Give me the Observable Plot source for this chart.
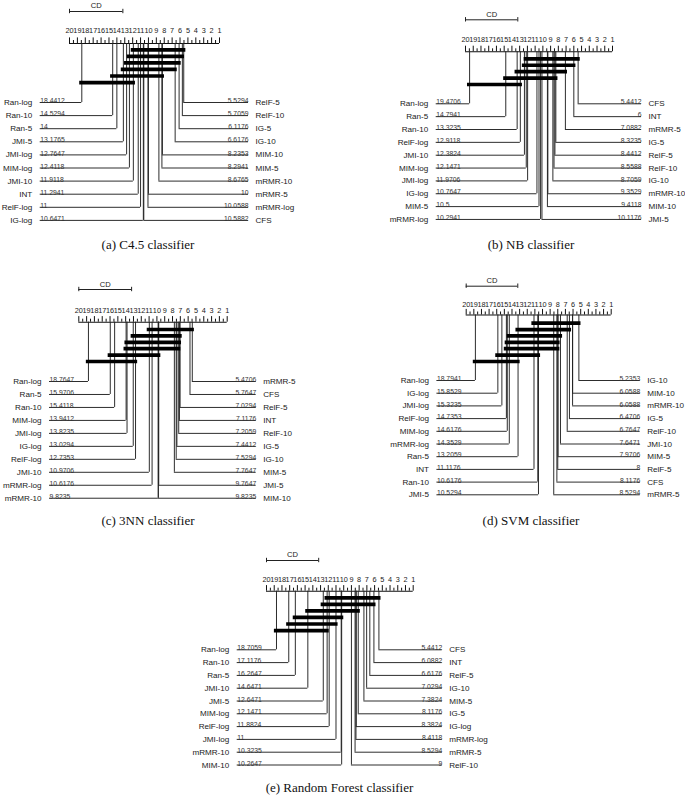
<!DOCTYPE html>
<html><head><meta charset="utf-8">
<script src="https://cdn.jsdelivr.net/npm/d3@7"></script>
<script src="https://cdn.jsdelivr.net/npm/@observablehq/plot@0.6"></script>
<style>
html,body{margin:0;padding:0;background:#fff;}
#page{position:relative;width:685px;height:795px;overflow:hidden;background:#fff;}
#page svg{position:absolute;left:0;top:0;background:transparent;}
.cap{position:absolute;font-family:"Liberation Serif","Times New Roman",serif;font-size:13px;color:#111;white-space:nowrap;transform:translate(-50%,-50%);}
</style></head><body><div id="page"></div>
<script>
// ---- data ----
const CD = 6.76;
const rankTicks = [20,19,18,17,16,15,14,13,12,11,10,9,8,7,6,5,4,3,2,1];

// (a) C4.5
const c45LeftNames  = ["Ran-log","Ran-10","Ran-5","JMI-5","JMI-log","MIM-log","JMI-10","INT","RelF-log","IG-log"];
const c45LeftRanks  = [18.4412,14.5294,14,13.1765,12.7647,12.4118,11.9118,11.2941,11,10.6471];
const c45RightNames = ["RelF-5","RelF-10","IG-5","IG-10","MIM-10","MIM-5","mRMR-10","mRMR-5","mRMR-log","CFS"];
const c45RightRanks = [5.5294,5.7059,6.1176,6.6176,8.2353,8.2941,8.6765,10,10.0588,10.5882];
const c45Cliques = [[11.9118,5.5294],[12.4118,5.7059],[12.7647,6.1176],[13.1765,6.6176],[14.5294,8.2353],[18.4412,11.9118]];

// (b) NB
const nbLeftNames  = ["Ran-log","Ran-5","Ran-10","RelF-log","JMI-10","MIM-log","JMI-log","IG-log","MIM-5","mRMR-log"];
const nbLeftRanks  = [19.4706,14.7941,13.3235,12.9118,12.3824,12.1471,11.9706,10.7647,10.5,10.2941];
const nbRightNames = ["CFS","INT","mRMR-5","IG-5","RelF-5","RelF-10","IG-10","mRMR-10","MIM-10","JMI-5"];
const nbRightRanks = [5.4412,6,7.0882,8.3235,8.4412,8.5588,8.7059,9.3529,9.4118,10.1176];
const nbCliques = [[12.1471,5.4412],[12.3824,6],[13.3235,7.0882],[14.7941,8.3235],[19.4706,12.9118]];

// (c) 3NN
const knnLeftNames  = ["Ran-log","Ran-5","Ran-10","MIM-log","JMI-log","IG-log","RelF-log","JMI-10","mRMR-log","mRMR-10"];
const knnLeftRanks  = [18.7647,15.9706,15.4118,13.9412,13.8235,13.0294,12.7353,10.9706,10.6176,9.8235];
const knnRightNames = ["mRMR-5","CFS","RelF-5","INT","RelF-10","IG-5","IG-10","MIM-5","JMI-5","MIM-10"];
const knnRightRanks = [5.4706,5.7647,7.0294,7.1176,7.2059,7.4412,7.5294,7.7647,9.7647,9.8235];
const knnCliques = [[10.9706,5.4706],[13.0294,7.0294],[13.8235,7.1176],[13.9412,7.2059],[15.9706,9.7647],[18.7647,12.7353]];

// (d) SVM
const svmLeftNames  = ["Ran-log","IG-log","JMI-log","RelF-log","MIM-log","mRMR-log","Ran-5","INT","Ran-10","JMI-5"];
const svmLeftRanks  = [18.7941,15.8529,15.3235,14.7353,14.6176,14.3529,13.2059,11.1176,10.6176,10.5294];
const svmRightNames = ["IG-10","MIM-10","mRMR-10","IG-5","RelF-10","JMI-10","MIM-5","RelF-5","CFS","mRMR-5"];
const svmRightRanks = [5.2353,6.0588,6.0588,6.4706,6.7647,7.6471,7.9706,8,8.1176,8.5294];
const svmCliques = [[11.1176,5.2353],[13.2059,6.4706],[14.3529,7.6471],[14.6176,7.9706],[14.7353,8],[15.8529,10.5294],[18.7941,13.2059]];

// (e) Random Forest
const rfLeftNames  = ["Ran-log","Ran-10","Ran-5","JMI-10","JMI-5","MIM-log","RelF-log","JMI-log","mRMR-10","MIM-10"];
const rfLeftRanks  = [18.7059,17.1176,16.2647,14.6471,12.6471,12.1471,11.8824,11,10.3235,10.2647];
const rfRightNames = ["CFS","INT","RelF-5","IG-10","MIM-5","IG-5","IG-log","mRMR-log","mRMR-5","RelF-10"];
const rfRightRanks = [5.4412,6.0882,6.6176,7.0294,7.3824,8.1176,8.3824,8.4118,8.5294,9];
const rfCliques = [[12.1471,5.4412],[12.6471,6.0882],[14.6471,8.1176],[16.2647,10.2647],[17.1176,11],[18.7059,12.1471]];

const captions = ["(a)  C4.5 classifier","(b)  NB classifier","(c)  3NN classifier","(d)  SVM classifier","(e)  Random Forest classifier"];

// ---- layout (page pixels) ----
const layouts = [
  {x0:69,   x1:219,   cdY:11,    cdLY:4.8,   tickY:30.5,  axisY:43,    cl0:49.3,  cst:6.55, row0:102,   rst:13.1,  capX:148,   capY:245},
  {x0:465,  x1:612,   cdY:19.3,  cdLY:13.8,  tickY:39.5,  axisY:51.3,  cl0:58.3,  cst:6.43, row0:103.3, rst:12.85, capX:531,   capY:245},
  {x0:78.3, x1:226.7, cdY:289,   cdLY:283.8, tickY:310.3, axisY:321.7, cl0:329,   cst:6.4,  row0:381,   rst:12.97, capX:148,   capY:521},
  {x0:465.7,x1:610.7, cdY:285.7, cdLY:280.3, tickY:304.3, axisY:314.5, cl0:322.7, cst:6.38, row0:380,   rst:12.7,  capX:531,   capY:521},
  {x0:266,  x1:412.7, cdY:560,   cdLY:554,   tickY:579.3, axisY:590.7, cl0:597.3, cst:6.55, row0:649.3, rst:12.8,  capX:339.5, capY:788}
];

const panels = [
  {ln:c45LeftNames, lr:c45LeftRanks, rn:c45RightNames, rr:c45RightRanks, cl:c45Cliques},
  {ln:nbLeftNames,  lr:nbLeftRanks,  rn:nbRightNames,  rr:nbRightRanks,  cl:nbCliques},
  {ln:knnLeftNames, lr:knnLeftRanks, rn:knnRightNames, rr:knnRightRanks, cl:knnCliques},
  {ln:svmLeftNames, lr:svmLeftRanks, rn:svmRightNames, rr:svmRightRanks, cl:svmCliques},
  {ln:rfLeftNames,  lr:rfLeftRanks,  rn:rfRightNames,  rr:rfRightRanks,  cl:rfCliques}
];

const SANS = "'Liberation Sans', Arial, Helvetica, sans-serif";
const page = document.getElementById("page");

function drawPanel(p, L) {
  const pxu = (L.x1 - L.x0) / 19;
  const leftEnd = 20 + 29.3 / pxu;
  const rightEnd = 1 - 29 / pxu;
  const ext = 2.1 / pxu;
  const left = p.ln.map((n, i) => ({name: n, rank: p.lr[i], y: L.row0 + i * L.rst, end: leftEnd}));
  const right = p.rn.map((n, i) => ({name: n, rank: p.rr[i], y: L.row0 + i * L.rst, end: rightEnd}));
  const rows = left.concat(right);
  const cliques = p.cl.map((c, i) => ({a: c[0] + ext, b: c[1] - ext, y: L.cl0 + i * L.cst}));
  const halfTicks = d3.range(39).map(i => 20 - i * 0.5).map(t => ({t, major: Number.isInteger(t)}));
  const svg = Plot.plot({
    width: 685, height: 795, margin: 0,
    x: {domain: [20, 1], range: [L.x0, L.x1], axis: null},
    y: {type: "identity", axis: null},
    style: {background: "transparent", overflow: "visible"},
    marks: [
      // CD bar
      Plot.ruleY([L.cdY], {x1: 20, x2: 20 - CD, stroke: "#222", strokeWidth: 1}),
      Plot.ruleX([20, 20 - CD], {y1: L.cdY - 2.2, y2: L.cdY + 2.2, stroke: "#222", strokeWidth: 1}),
      Plot.text(["CD"], {x: 20 - CD / 2, y: L.cdLY, text: d => d, fontSize: 7.6, fontFamily: SANS, fill: "#222"}),
      // axis
      Plot.text(rankTicks, {x: d => d, y: L.tickY, text: d => String(d), fontSize: 7.3, fontFamily: SANS, fill: "#222"}),
      Plot.ruleY([L.axisY], {x1: 20, x2: 1, stroke: "#111", strokeWidth: 1.1}),
      Plot.ruleX(halfTicks, {x: "t", y1: L.axisY, y2: d => L.axisY - (d.major ? 5.6 : 3), stroke: "#111", strokeWidth: 1}),
      // connectors
      Plot.ruleX(rows, {x: "rank", y1: L.axisY, y2: "y", stroke: "#222", strokeWidth: 0.95}),
      Plot.ruleY(rows, {y: "y", x1: "rank", x2: "end", stroke: "#222", strokeWidth: 0.95}),
      // cliques
      Plot.ruleY(cliques, {y: "y", x1: "a", x2: "b", stroke: "#000", strokeWidth: 3.7}),
      // values
      Plot.text(left, {x: "end", y: "y", text: d => String(d.rank), textAnchor: "start", lineAnchor: "bottom", dy: 0.6, fontSize: 6.8, fontFamily: SANS, fill: "#333"}),
      Plot.text(right, {x: "end", y: "y", text: d => String(d.rank), textAnchor: "end", lineAnchor: "bottom", dy: 0.6, fontSize: 6.8, fontFamily: SANS, fill: "#333"}),
      // names
      Plot.text(left, {x: 20, dx: -37.2, y: "y", text: "name", textAnchor: "end", fontSize: 8.1, fontFamily: SANS, fill: "#1a1a1a"}),
      Plot.text(right, {x: 1, dx: 36, y: "y", text: "name", textAnchor: "start", fontSize: 8.1, fontFamily: SANS, fill: "#1a1a1a"})
    ]
  });
  page.appendChild(svg);
}

panels.forEach((p, i) => drawPanel(p, layouts[i]));
layouts.forEach((L, i) => {
  const d = document.createElement("div");
  d.className = "cap";
  d.style.left = L.capX + "px";
  d.style.top = L.capY + "px";
  d.textContent = captions[i];
  page.appendChild(d);
});
</script></body></html>
